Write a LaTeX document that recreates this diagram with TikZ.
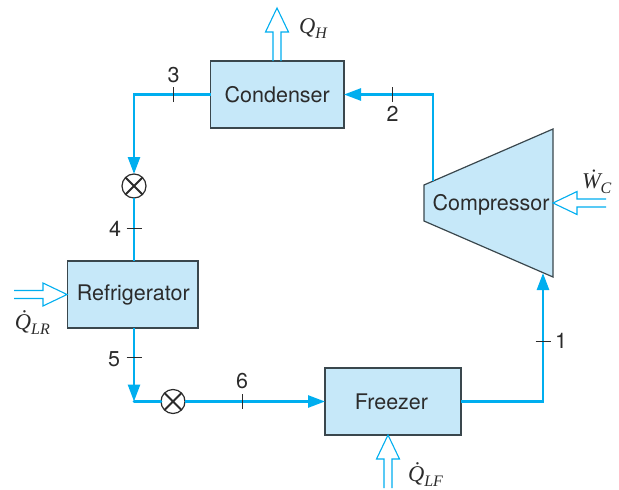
\documentclass[tikz,border=0pt]{standalone}
\usepackage{fontspec}
\setmainfont{TeX Gyre Heros}
\newfontfamily\qfont{Liberation Serif}
\usetikzlibrary{arrows.meta}
\definecolor{boxfill}{HTML}{C6E8F9}
\definecolor{flow}{HTML}{00AEEF}
\definecolor{edge}{HTML}{3A474D}
\definecolor{ink}{HTML}{2B2B2B}
\newcommand{\qlabel}[2]{{\qfont\itshape\fontsize{22.5}{22.5}\selectfont #1\raisebox{-.26em}{\fontsize{16}{16}\selectfont #2}}}
\tikzset{
  x=1pt,y=-1pt,
  every node/.style={text=ink,font=\fontsize{21.5}{24}\selectfont,inner sep=0pt,outer sep=0pt},
  unit/.style={draw=edge,fill=boxfill,line width=1.2pt,minimum height=67pt},
  flowline/.style={draw=flow,line width=2.6pt},
  flowarrow/.style={flowline,-{Triangle[length=17pt,width=12pt]}},
  valve/.style={circle,draw=ink,fill=white,line width=1.2pt,minimum size=24pt},
  valvecross/.style={draw=ink,line width=2pt},
  tickmark/.style={draw=ink,line width=.9pt},
  hollow/.pic={
    \draw[flow,line width=1.1pt,line join=miter] (53,-4)--(24,-4)--(24,-11.5)--(0,0)--(24,11.5)--(24,4)--(53,4);
  }
}
\begin{document}
\begin{tikzpicture}
\useasboundingbox (0,0) rectangle (619,490);
% units
\node[unit,minimum width=133.5pt] (cond) at (277.25,94.5) {Condenser};
\node[unit,minimum width=130.5pt] (refr) at (132.75,294.5) {\hspace{1pt}Refrigerator};
\node[unit,minimum width=136pt] (freez) at (393,401.5) {\hspace{-3pt}Freezer};
\coordinate (c1) at (424,185);
\coordinate (c2) at (553,129);
\coordinate (c3) at (553,277);
\coordinate (c4) at (424,221);
\draw[draw=edge,fill=boxfill,line width=1.2pt,line join=miter] (c1)--(c2)--(c3)--(c4)--cycle;
\node (comp) at (491,205) {Compressor};
% valves
\node[valve] (v1) at (134,186) {};
\node[valve] (v2) at (173,401.5) {};
\draw[valvecross] (v1.45)--(v1.225) (v1.135)--(v1.315);
\draw[valvecross] (v2.45)--(v2.225) (v2.135)--(v2.315);
% corners
\coordinate (k1) at (134,94.5);
\coordinate (k2) at (134,401.5);
\coordinate (k3) at (543,401.5);
\coordinate (k4) at (433,94.5);
\coordinate (out) at (433,181);
\coordinate (in) at (543,273);
% flow lines
\draw[flowarrow] (cond.west) -- (k1) -- (v1.north);
\draw[flowline] (v1.south) -- (v1.south |- refr.north);
\draw[flowarrow] (k2 |- refr.south) -- (k2);
\draw[flowline,line cap=round] (k2) -- (v2.west);
\draw[flowarrow] (v2.east) -- (freez.west);
\draw[flowarrow] (freez.east) -- (k3) -- (in);
\draw[flowarrow] (out) -- (k4) -- (cond.east);
% state ticks
\coordinate (t3) at (173,94.5);
\coordinate (t2) at (392,94.5);
\coordinate (t4) at (134,228);
\coordinate (t5) at (134,357);
\coordinate (t6) at (242,401.5);
\coordinate (t1) at (543,341);
\draw[tickmark] ([yshift=-7.5pt]t3)--([yshift=7.5pt]t3);
\draw[tickmark] ([yshift=-7.5pt]t2)--([yshift=7.5pt]t2);
\draw[tickmark] ([yshift=-7.5pt]t6)--([yshift=7.5pt]t6);
\draw[tickmark] ([xshift=-7.5pt]t4)--([xshift=7.5pt]t4);
\draw[tickmark] ([xshift=-7.5pt]t5)--([xshift=7.5pt]t5);
\draw[tickmark] ([xshift=-7.5pt]t1)--([xshift=7.5pt]t1);
\node (n3) at (173.5,75) {3};
\node (n2) at (392.5,114) {2};
\node (n4) at (115,229) {4};
\node (n5) at (114,359) {5};
\node (n6) at (242,381) {6};
\node (n1) at (561,341) {1};
% heat and work arrows
\coordinate (hq) at (277,8);
\coordinate (hw) at (553,203);
\coordinate (hr) at (67,294.5);
\coordinate (hf) at (388,435);
\path (hq) pic[rotate=-90] {hollow};
\path (hw) pic {hollow};
\path (hr) pic[rotate=180] {hollow};
\path (hf) pic[rotate=-90] {hollow};
\node[anchor=base west] (lq) at (299,33) {\qlabel{Q}{H}};
\node[anchor=base west] (lw) at (582,188) {\qlabel{\.{W}}{C}};
\node[anchor=base west] (lr) at (15,329) {\qlabel{\.{Q}}{LR}};
\node[anchor=base west] (lf) at (408,481) {\qlabel{\.{Q}}{LF}};
\end{tikzpicture}
\end{document}
